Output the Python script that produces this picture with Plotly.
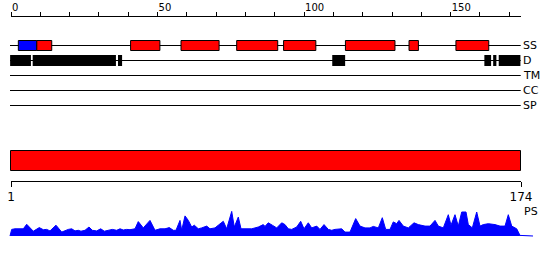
import plotly.graph_objects as go

# ---------------- data ----------------
seq_len = 174
axis_ticks = list(range(0, 171, 10))
axis_labels = ["0" if t == 0 else (str(t) if t % 50 == 0 else "") for t in axis_ticks]

track_names = ["SS", "D", "TM", "CC", "SP"]

# secondary structure: strands (blue) and helices (red)
strand_start = [2.5]
strand_end = [8.8]
helix_start = [8.8, 40.8, 58.0, 77.0, 93.0, 114.1, 135.8, 151.8]
helix_end = [13.9, 50.8, 71.0, 91.0, 104.0, 131.0, 139.0, 163.0]

# disorder segments (black)
dis_start = [-0.3, 7.4, 36.5, 109.6, 161.5, 164.5, 166.4]
dis_end = [6.8, 35.8, 37.9, 114.0, 163.8, 165.6, 173.8]

# domain bar (red, whole chain)
dom_start = [-0.17]
dom_end = [173.83]

# bottom ruler
ruler_ticks = [0, 174]
ruler_labels = ["1", "174"]

# PS profile
ps_pos = [-0.34, 0.24, 1.36, 3.07, 4.2, 5.36, 7.61, 9.66, 11.02, 12.18, 13.31, 15.35, 17.3,
          19.55, 20.71, 21.84, 22.96, 23.88, 25.25, 26.61, 27.74, 29.24, 30.6, 31.83, 33.2,
          34.56, 36.06, 37.19, 38.31, 39.47, 40.6, 42.31, 43.43, 45.14, 47.42, 49.13, 50.84,
          52.54, 54.01, 55.37, 56.29, 57.66, 58.24, 59.37, 60.49, 61.65, 62.54, 63.9, 65.06,
          66.77, 67.89, 69.6, 70.73, 72.43, 73.59, 75.3, 76.18, 77.55, 78.47, 79.84, 82.12,
          84.37, 86.08, 86.66, 87.78, 89.15, 90.65, 92.36, 93.48, 94.61, 95.77, 97.47, 98.84,
          99.97, 101.43, 102.59, 104.3, 105.42, 106.79, 108.26, 109.42, 110.54, 112.83, 113.95,
          115.66, 117.6, 119.07, 120.78, 122.48, 123.61, 125.32, 126.68, 127.84, 129.31, 130.43,
          131.59, 132.38, 133.84, 135.55, 137.5, 138.96, 141.25, 142.95, 144.66, 145.79, 147.49,
          149.2, 150.12, 151.48, 152.61, 153.77, 155.24, 156.02, 157.39, 158.89, 160.01, 161.14,
          162.85, 165.13, 166.84, 168.54, 169.67, 170.83, 172.53, 173.66, 178.1]
ps_val = [0.0, 0.22, 0.24, 0.24, 0.24, 0.39, 0.16, 0.28, 0.21, 0.22, 0.17, 0.36, 0.13,
          0.22, 0.24, 0.17, 0.19, 0.16, 0.19, 0.30, 0.19, 0.17, 0.24, 0.16, 0.19,
          0.22, 0.19, 0.24, 0.20, 0.22, 0.21, 0.24, 0.48, 0.27, 0.52, 0.19, 0.24,
          0.24, 0.28, 0.19, 0.19, 0.52, 0.19, 0.67, 0.52, 0.30, 0.36, 0.24, 0.27,
          0.33, 0.24, 0.27, 0.36, 0.49, 0.24, 0.82, 0.30, 0.63, 0.24, 0.24, 0.24,
          0.30, 0.38, 0.32, 0.44, 0.36, 0.27, 0.44, 0.38, 0.24, 0.22, 0.30, 0.49,
          0.24, 0.44, 0.27, 0.33, 0.22, 0.38, 0.22, 0.19, 0.22, 0.24, 0.13,
          0.13, 0.58, 0.33, 0.27, 0.27, 0.32, 0.27, 0.61, 0.22, 0.22, 0.47,
          0.41, 0.52, 0.33, 0.27, 0.44, 0.38, 0.33, 0.33, 0.52, 0.33, 0.27,
          0.71, 0.36, 0.71, 0.33, 0.80, 0.80, 0.38, 0.27, 0.80, 0.33, 0.38,
          0.41, 0.38, 0.33, 0.33, 0.71, 0.33, 0.24, 0.02, 0.0]

# ---------------- layout constants (pixels) ----------------
W, H = 550, 260
PX0, PXR = 11.0, 510.0 / 174.0           # px of residue 0, px per residue
x_lo = -PX0 / PXR
x_hi = (W - PX0) / PXR
row_y = [45.5, 60.5, 75.5, 90.5, 105.5]
line_x0, line_x1 = -0.34, 173.9
FONT = "DejaVu Sans"

fig = go.Figure()

shapes = []
# track baselines
for y in row_y:
    shapes.append(dict(type="line", xref="x", yref="y", x0=line_x0, x1=line_x1, y0=y, y1=y,
                       line=dict(color="black", width=1)))
# strands
for s, e in zip(strand_start, strand_end):
    shapes.append(dict(type="rect", xref="x", yref="y", x0=s, x1=e, y0=40.5, y1=50.5,
                       fillcolor="#0000ff", line=dict(color="black", width=1)))
# helices
for s, e in zip(helix_start, helix_end):
    shapes.append(dict(type="rect", xref="x", yref="y", x0=s, x1=e, y0=40.5, y1=50.5,
                       fillcolor="#ff0000", line=dict(color="black", width=1)))
# disorder
for s, e in zip(dis_start, dis_end):
    shapes.append(dict(type="rect", xref="x", yref="y", x0=s, x1=e, y0=55, y1=66,
                       fillcolor="black", line=dict(width=0)))
# domain bar
for s, e in zip(dom_start, dom_end):
    shapes.append(dict(type="rect", xref="x", yref="y", x0=s, x1=e, y0=150.5, y1=170.5,
                       fillcolor="#ff0000", line=dict(color="black", width=1)))

annotations = []
for name, y in zip(track_names, row_y):
    annotations.append(dict(x=174.2, y=y, xref="x", yref="y", text=name, showarrow=False,
                            xanchor="left", yanchor="middle", xshift=-1,
                            font=dict(family=FONT, size=11, color="black")))
annotations.append(dict(x=174.2, y=211, xref="x", yref="y", text="PS", showarrow=False,
                        xanchor="left", yanchor="middle",
                        font=dict(family=FONT, size=11, color="black")))

# PS profile
fig.add_trace(go.Scatter(x=ps_pos, y=ps_val, xaxis="x", yaxis="y2", mode="lines",
                         fill="tozeroy", fillcolor="#0000ff",
                         line=dict(color="#0000ff", width=1), hoverinfo="skip",
                         showlegend=False))
# invisible traces to register top & bottom ruler axes
fig.add_trace(go.Scatter(x=[0, 174], y=[None, None], xaxis="x2", yaxis="y", showlegend=False,
                         hoverinfo="skip"))
fig.add_trace(go.Scatter(x=[0, 174], y=[None, None], xaxis="x3", yaxis="y", showlegend=False,
                         hoverinfo="skip"))

dom = [PX0 / W, (PX0 + 510.0) / W]
fig.update_layout(
    width=W, height=H, margin=dict(l=0, r=0, t=0, b=0, autoexpand=False),
    paper_bgcolor="white", plot_bgcolor="rgba(0,0,0,0)",
    showlegend=False,
    xaxis=dict(range=[x_lo, x_hi], domain=[0, 1], visible=False, fixedrange=True),
    yaxis=dict(range=[H, 0], domain=[0, 1], visible=False, fixedrange=True),
    yaxis2=dict(range=[-0.8, 1.0], domain=[0, 54.0 / H], visible=False, anchor="x",
                fixedrange=True),
    xaxis2=dict(range=[0, 174], domain=dom, side="top", anchor="free",
                position=1 - 15.5 / H, showline=True, linecolor="black", linewidth=1,
                ticks="outside", ticklen=4, tickcolor="black", tickwidth=1,
                tickvals=axis_ticks, ticktext=axis_labels, ticklabelposition="outside right",
                ticklabelstandoff=1,
                showgrid=False, zeroline=False,
                tickfont=dict(family=FONT, size=10, color="black")),
    xaxis3=dict(range=[0, 174], domain=dom, side="bottom", anchor="free",
                position=1 - 180.5 / H, showline=True, linecolor="black", linewidth=1,
                ticks="outside", ticklen=5, tickcolor="black", tickwidth=1,
                tickvals=ruler_ticks, ticktext=ruler_labels,
                showgrid=False, zeroline=False,
                tickfont=dict(family=FONT, size=12, color="black")),
    shapes=shapes,
    annotations=annotations,
)

fig.write_html("out.html")
